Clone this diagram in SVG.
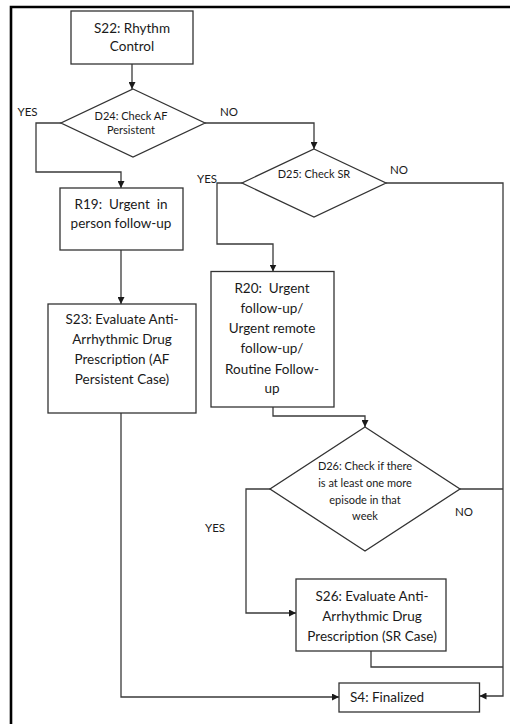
<svg xmlns="http://www.w3.org/2000/svg" width="510" height="724" viewBox="0 0 510 724">
  <style>
    .box { fill: #ffffff; stroke: #333333; stroke-width: 1.3; }
    .wire { fill: none; stroke: #3a3a3a; stroke-width: 1.3; }
    .frame { fill: none; stroke: #000000; stroke-width: 2.6; }
    text { font-family: Lato, "Noto Sans", "Liberation Sans", sans-serif; fill: #1a1a1a; dominant-baseline: central; text-anchor: middle; white-space: pre; }
    .t { font-size: 13.5px; }
    .d { font-size: 11px; }
    .lbl { font-size: 11.5px; }
  </style>
  <defs>
    <marker id="arrow" viewBox="0 0 10 10" refX="10" refY="5" markerWidth="7" markerHeight="7" markerUnits="userSpaceOnUse" orient="auto">
      <path d="M0,0 L10,5 L0,10 z" fill="#1a1a1a"/>
    </marker>
  </defs>

  <rect width="510" height="724" fill="#ffffff"/>
  <!-- page frame: top and left edges only -->
  <path class="frame" d="M11,724 V7 H510"/>

  <g id="connectors">
    <path class="wire" d="M132,64 V89" marker-end="url(#arrow)"/>
    <path class="wire" d="M61,123 H36 V172 H121 V188" marker-end="url(#arrow)"/>
    <path class="wire" d="M205,123 H314 V149" marker-end="url(#arrow)"/>
    <path class="wire" d="M121,250 V304" marker-end="url(#arrow)"/>
    <path class="wire" d="M242,183 H217 V244 H273 V271.5" marker-end="url(#arrow)"/>
    <path class="wire" d="M386,183 H503 V696 H479.5" marker-end="url(#arrow)"/>
    <path class="wire" d="M273,407 V416 H365 V427" marker-end="url(#arrow)"/>
    <path class="wire" d="M270,489 H246 V613 H296" marker-end="url(#arrow)"/>
    <path class="wire" d="M460,489 H503"/>
    <path class="wire" d="M371,651 V667 H503"/>
    <path class="wire" d="M121,413 V697 H339" marker-end="url(#arrow)"/>
  </g>

  <g id="S22">
    <rect class="box" x="71" y="11" width="122" height="53"/>
    <text class="t" x="132" y="28">S22: Rhythm</text>
    <text class="t" x="132" y="46">Control</text>
  </g>

  <g id="D24">
    <polygon class="box" points="133,89 205,123 133,157 61,123"/>
    <text class="d" x="131" y="115">D24: Check AF</text>
    <text class="d" x="131" y="129">Persistent</text>
    <text class="lbl" x="27.5" y="111">YES</text>
    <text class="lbl" x="229" y="111">NO</text>
  </g>

  <g id="R19">
    <rect class="box" x="60" y="188" width="123" height="62"/>
    <text class="t" x="121" y="204">R19:  Urgent  in</text>
    <text class="t" x="121" y="223">person follow-up</text>
  </g>

  <g id="S23">
    <rect class="box" x="48" y="304" width="148" height="109"/>
    <text class="t" x="122" y="319">S23: Evaluate Anti-</text>
    <text class="t" x="122" y="339">Arrhythmic Drug</text>
    <text class="t" x="122" y="359">Prescription (AF</text>
    <text class="t" x="122" y="379">Persistent Case)</text>
  </g>

  <g id="D25">
    <polygon class="box" points="314,149 386,183 314,217 242,183"/>
    <text class="d" x="314" y="173">D25: Check SR</text>
    <text class="lbl" x="207" y="178">YES</text>
    <text class="lbl" x="399" y="169">NO</text>
  </g>

  <g id="R20">
    <rect class="box" x="211" y="271.5" width="123" height="135.5"/>
    <text class="t" x="272" y="288">R20:  Urgent</text>
    <text class="t" x="272" y="308">follow-up/</text>
    <text class="t" x="272" y="328">Urgent remote</text>
    <text class="t" x="272" y="348">follow-up/</text>
    <text class="t" x="272" y="368.5">Routine Follow-</text>
    <text class="t" x="272" y="388">up</text>
  </g>

  <g id="D26">
    <polygon class="box" points="365,427 460,489 365,551 270,489"/>
    <text class="d" x="365" y="465">D26: Check if there</text>
    <text class="d" x="365" y="482">is at least one more</text>
    <text class="d" x="365" y="499">episode in that</text>
    <text class="d" x="365" y="515">week</text>
    <text class="lbl" x="215" y="527">YES</text>
    <text class="lbl" x="464" y="511">NO</text>
  </g>

  <g id="S26">
    <rect class="box" x="296" y="579" width="150" height="72"/>
    <text class="t" x="372" y="596">S26: Evaluate Anti-</text>
    <text class="t" x="372" y="616">Arrhythmic Drug</text>
    <text class="t" x="372" y="636">Prescription (SR Case)</text>
  </g>

  <g id="S4">
    <rect class="box" x="339" y="683" width="140.5" height="29"/>
    <text class="t" x="350" y="697" style="text-anchor: start">S4: Finalized</text>
  </g>
</svg>
